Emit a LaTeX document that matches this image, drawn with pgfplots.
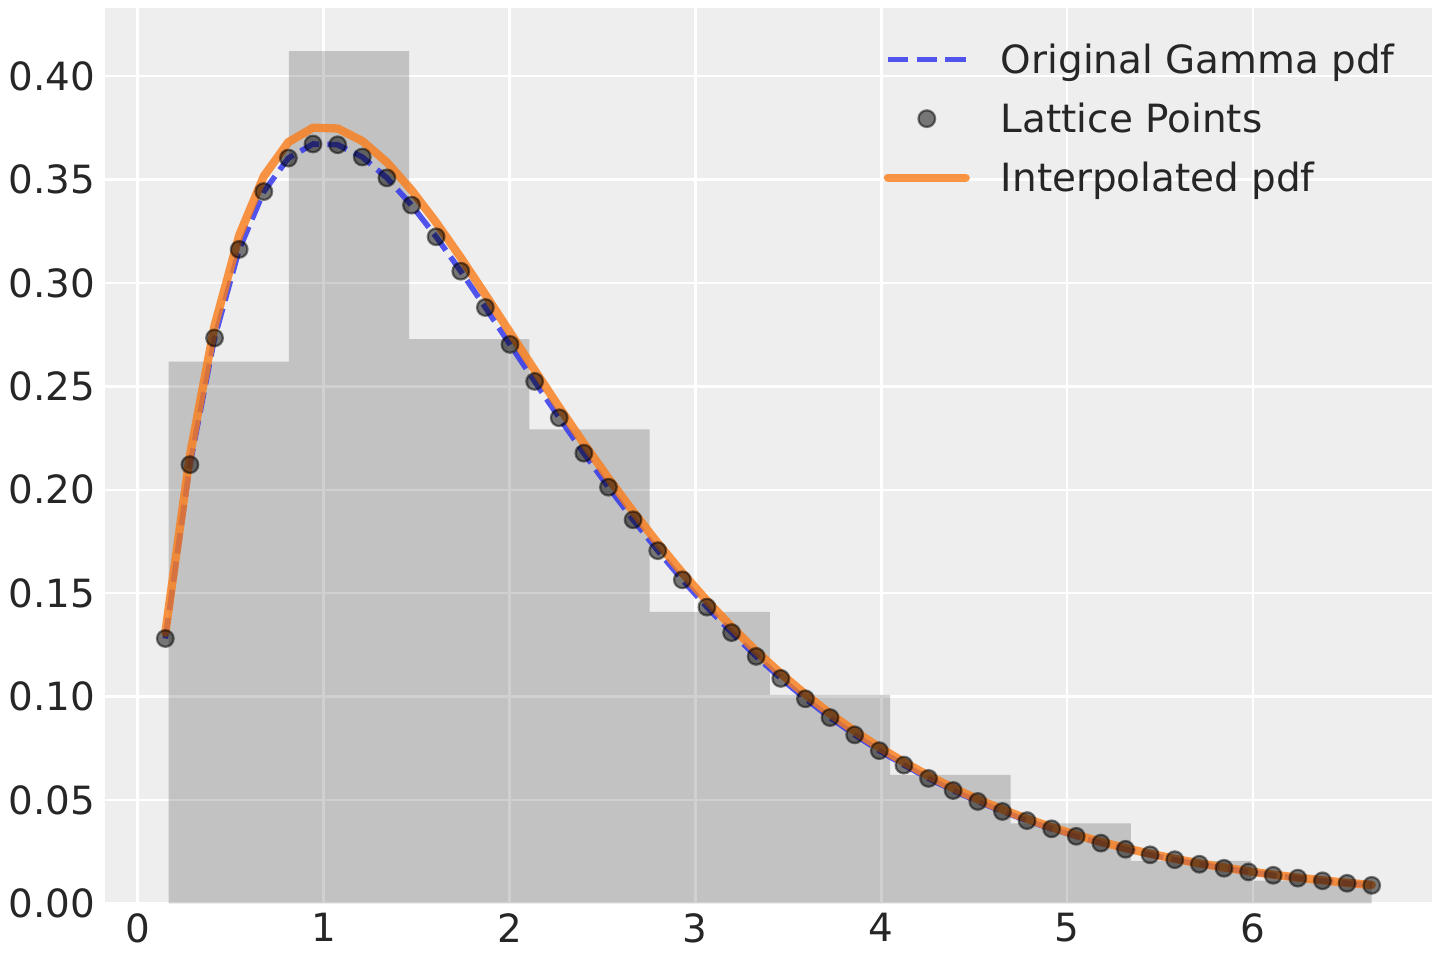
\documentclass[border=0pt]{standalone}
\usepackage{fontspec}
\setmainfont{DejaVu Sans}
\usepackage{pgfplots}
\usepackage{pgfplotstable}
\pgfplotsset{compat=1.18}
\definecolor{bgc}{HTML}{EEEEEE}
\definecolor{txt}{HTML}{262626}
\definecolor{cblue}{HTML}{2A2EEC}
\definecolor{corange}{HTML}{FA7C17}

% x, original gamma pdf (also the lattice points), interpolated pdf
\pgfplotstableread{
x g o
0.1486 0.12808 0.13083
0.2810 0.21216 0.21671
0.4135 0.27345 0.27932
0.5459 0.31624 0.32303
0.6784 0.34423 0.35161
0.8108 0.36042 0.36815
0.9433 0.36724 0.37512
1.0757 0.36686 0.37473
1.2082 0.36093 0.36867
1.3406 0.35084 0.35837
1.4731 0.33766 0.34490
1.6055 0.32237 0.32928
1.7380 0.30570 0.31226
1.8704 0.28816 0.29434
2.0028 0.27030 0.27610
2.1353 0.25242 0.25783
2.2677 0.23482 0.23986
2.4002 0.21770 0.22237
2.5326 0.20124 0.20556
2.6651 0.18549 0.18947
2.7975 0.17056 0.17422
2.9300 0.15646 0.15982
3.0624 0.14326 0.14633
3.1949 0.13093 0.13374
3.3273 0.11942 0.12198
3.4597 0.10877 0.11110
3.5922 0.09893 0.10105
3.7246 0.08984 0.09177
3.8571 0.08150 0.08325
3.9895 0.07385 0.07543
4.1220 0.06686 0.06829
4.2544 0.06041 0.06171
4.3869 0.05457 0.05574
4.5193 0.04926 0.05032
4.6518 0.04442 0.04537
4.7842 0.04000 0.04086
4.9166 0.03604 0.03681
5.0491 0.03241 0.03311
5.1815 0.02912 0.02974
5.3140 0.02614 0.02670
5.4464 0.02347 0.02397
5.5789 0.02109 0.02154
5.7113 0.01890 0.01931
5.8438 0.01695 0.01731
5.9762 0.01518 0.01551
6.1087 0.01356 0.01385
6.2411 0.01217 0.01243
6.3736 0.01090 0.01113
6.5060 0.00969 0.00990
6.6384 0.00870 0.00889
}\curves

% histogram: left bin edges and densities (last row = right edge)
\pgfplotstableread{
x h
0.166 0.2620
0.813 0.4122
1.460 0.2728
2.107 0.2292
2.754 0.1409
3.401 0.1008
4.048 0.0621
4.696 0.0387
5.343 0.0205
5.990 0.0110
6.638 0.0110
}\hist

\begin{document}
\begin{tikzpicture}
\begin{axis}[
  scale only axis, width=477.7pt, height=322.3pt,
  xmin=-0.1759, xmax=6.9629, ymin=0, ymax=0.4330,
  axis background/.style={fill=bgc},
  axis line style={draw=none},
  major tick length=0pt,
  grid=major,
  major grid style={white, line width=0.9pt},
  xtick={0,1,2,3,4,5,6},
  ytick={0,0.05,0.1,0.15,0.2,0.25,0.3,0.35,0.4},
  /pgf/number format/assume math mode=true,
  tick label style={font=\fontsize{14}{16.8}\selectfont, text=txt},
  yticklabel style={/pgf/number format/fixed, /pgf/number format/fixed zerofill, /pgf/number format/precision=2},
  legend cell align=left,
  legend style={at={(rel axis cs:1,1)}, anchor=north east, xshift=-2.1pt, yshift=-13.3pt,
    draw=none, fill=none, inner sep=0pt, row sep=11.04pt,
    font=\fontsize{14}{16.8}\selectfont, text=txt,
    nodes={inner sep=0pt, inner xsep=11.2pt, text height=10.2pt, text depth=0pt}},
  legend image code/.code={\draw[mark repeat=2,mark phase=2,#1] plot coordinates {(0pt,0pt)(14pt,0pt)(28pt,0pt)};},
]
\addplot[ybar interval, draw=none, fill=black, fill opacity=0.185, forget plot] table[x=x,y=h] {\hist};
\addplot[cblue, draw opacity=0.8, line width=2pt, dash pattern=on 7.4pt off 2.9pt] table[x=x,y=g] {\curves};
\addlegendentry{Original Gamma pdf}
\addplot[only marks, mark=*, mark size=3pt, mark options={fill=black, fill opacity=0.5, draw=black, draw opacity=0.5, line width=0.8pt}] table[x=x,y=g] {\curves};
\addlegendentry{Lattice Points}
\addplot[corange, draw opacity=0.8, line width=3pt, line cap=round, line join=round] table[x=x,y=o] {\curves};
\addlegendentry{Interpolated pdf}
\end{axis}
\pgfresetboundingbox
\path ([xshift=-37.8pt,yshift=-20.4pt]current axis.south west) rectangle ([xshift=2.88pt,yshift=2.88pt]current axis.north east);
\end{tikzpicture}
\end{document}
